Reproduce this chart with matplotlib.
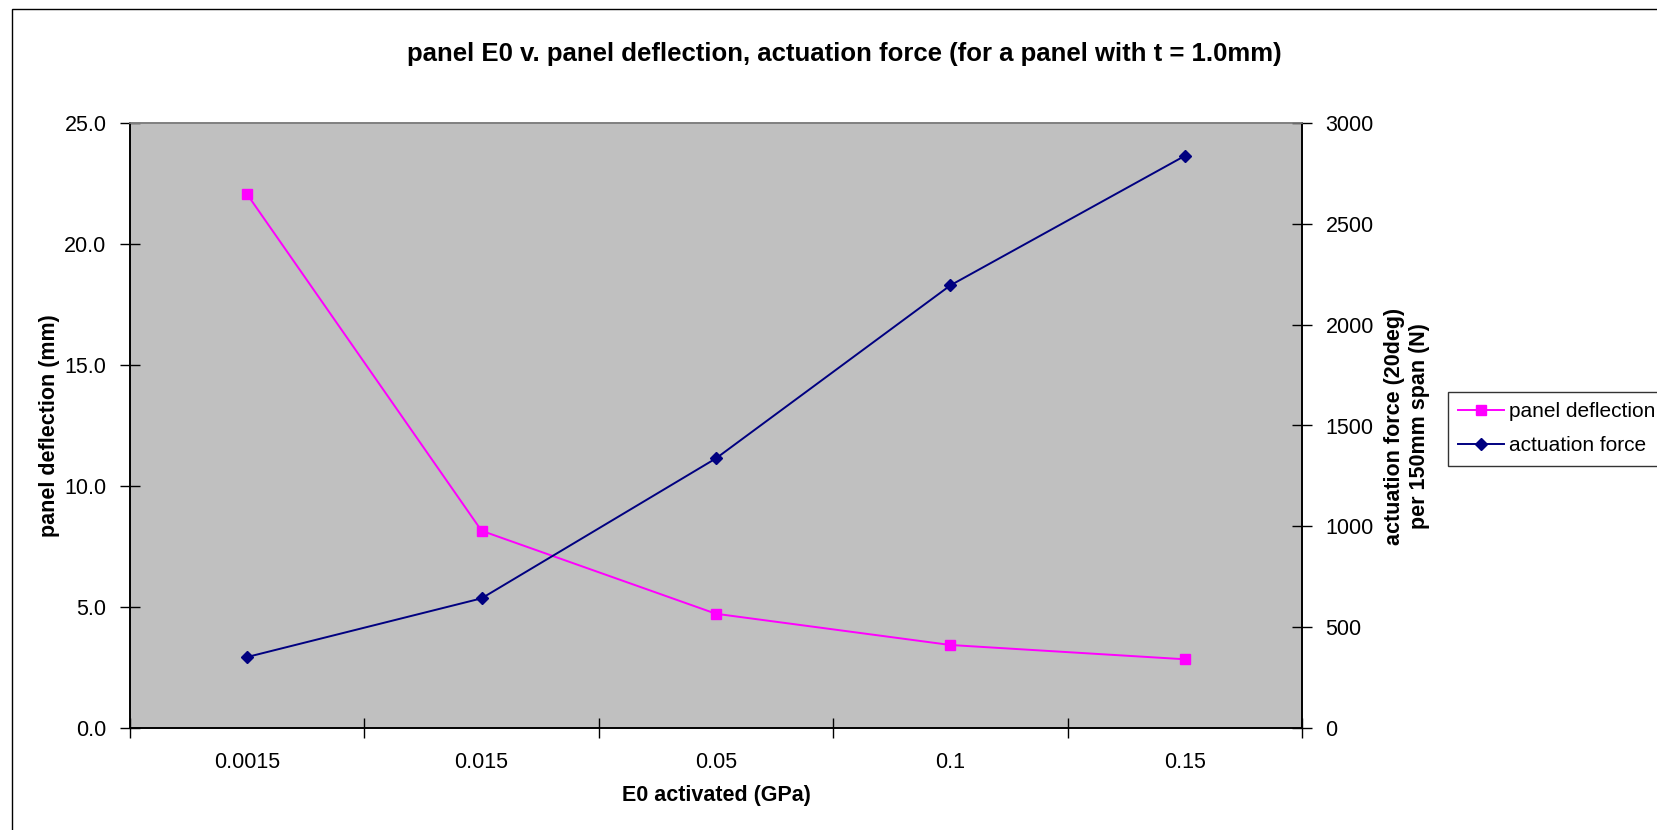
import matplotlib.pyplot as plt
from matplotlib.patches import Rectangle
import numpy as np

plt.rcParams['font.family'] = ['Liberation Sans', 'DejaVu Sans']

categories = ['0.0015', '0.015', '0.05', '0.1', '0.15']
panel_deflection = [22.05, 8.15, 4.72, 3.43, 2.84]
actuation_force = [352, 643, 1337, 2195, 2837]

W, H = 1658, 830
fig = plt.figure(figsize=(W / 100, H / 100), dpi=100)

# outer chart border (cut by right and bottom image edges)
fig.patches.append(Rectangle((12 / W, -0.1), 1.2, 1 - 9 / H + 0.1, transform=fig.transFigure,
                             fill=False, edgecolor='black', linewidth=1.0))

left, right, bottom, top = 130 / W, 1302 / W, 1 - 728 / H, 1 - 123 / H
ax = fig.add_axes([left, bottom, right - left, top - bottom])
ax.set_facecolor('#c0c0c0')
ax2 = ax.twinx()

x = np.arange(len(categories))
l1, = ax.plot(x, panel_deflection, color='#ff00ff', marker='s', markersize=7.3,
              linewidth=1.4, label='panel deflection')
l2, = ax2.plot(x, actuation_force, color='#000080', marker='D', markersize=6.4,
               linewidth=1.4, label='actuation force')

ax.set_xlim(-0.5, len(categories) - 0.5)
ax.set_ylim(0, 25)
ax2.set_ylim(0, 3000)
ax.set_yticks(np.arange(0, 25.1, 5))
ax.set_yticklabels(['%.1f' % v for v in np.arange(0, 25.1, 5)])
ax2.set_yticks(np.arange(0, 3001, 500))

ax.set_xticks(x)
ax.set_xticklabels(categories)
ax.set_xticks(np.arange(-0.5, len(categories), 1), minor=True)
ax.tick_params(axis='x', which='major', length=0, pad=17, labelsize=15.5)
ax.tick_params(axis='x', which='minor', direction='inout', length=14, width=1)
ax.tick_params(axis='y', direction='inout', length=14, width=1, pad=10, labelsize=15.5)
ax2.tick_params(axis='y', direction='inout', length=14, width=1, pad=10, labelsize=15.5)

for a in (ax, ax2):
    for s in ('left', 'bottom', 'right'):
        a.spines[s].set_color('black')
        a.spines[s].set_linewidth(1.2)
    a.spines['top'].set_color('#808080')
    a.spines['top'].set_linewidth(1.2)

fig.text(844 / W, 1 - 54 / H, 'panel E0 v. panel deflection, actuation force (for a panel with t = 1.0mm)',
         ha='center', va='center', fontsize=18.5, fontweight='bold')
fig.text(716 / W, 1 - 795 / H, 'E0 activated (GPa)', ha='center', va='center',
         fontsize=15.5, fontweight='bold')
fig.text(50 / W, 1 - 426 / H, 'panel deflection (mm)', ha='center', va='center',
         rotation=90, fontsize=15.5, fontweight='bold')
fig.text(1407 / W, 1 - 426 / H, 'actuation force (20deg)\nper 150mm span (N)', ha='center',
         va='center', rotation=90, fontsize=15.5, fontweight='bold', multialignment='center',
         linespacing=1.25)

leg = fig.legend(handles=[l1, l2], loc='upper left', bbox_to_anchor=(1448 / W, 1 - 392 / H),
                 bbox_transform=fig.transFigure, fontsize=15, frameon=True, fancybox=False,
                 edgecolor='black', handlelength=2.2, handletextpad=0.25, borderpad=0.5,
                 labelspacing=0.72, borderaxespad=0)
leg.get_frame().set_linewidth(1.0)

fig.savefig('out.png', dpi=100)
